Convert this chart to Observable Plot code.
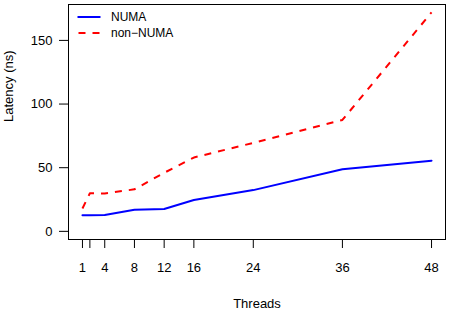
<!DOCTYPE html>
<html><head><meta charset="utf-8">
<script src="https://cdn.jsdelivr.net/npm/d3@7"></script>
<script src="https://cdn.jsdelivr.net/npm/@observablehq/plot@0.6"></script>
<style>
body{margin:0;background:#fff;}
#wrap{position:relative;width:450px;height:315px;font-family:"Liberation Sans",Arial,Helvetica,sans-serif;}
#wrap svg.plot{display:block;}
.leg{position:absolute;left:77px;height:16px;display:flex;align-items:center;font-size:12px;color:#000;white-space:nowrap;}
.leg svg{margin-right:10px;}
</style></head><body><div id="wrap"></div>
<script>
const threads = [1, 2, 4, 8, 12, 16, 24, 36, 48];
const numa = [12.6, 12.7, 12.9, 16.9, 17.6, 24.6, 32.4, 48.8, 55.5];
const nonNuma = [18.0, 29.9, 29.8, 33.0, 46.0, 58.0, 69.5, 87.5, 172.0];
const xTicks = [1, 2, 4, 8, 12, 16, 24, 36, 48];
const xTickLabels = ["1", "", "4", "8", "12", "16", "24", "36", "48"];
const yTicks = [0, 50, 100, 150];
const seriesNames = ["NUMA", "non\u2212NUMA"];
const seriesColors = ["#0000ff", "#ff0000"];
const seriesDash = ["none", "7,7"];

const rows = [];
threads.forEach((t, i) => {
  rows.push({threads: t, latency: numa[i], series: seriesNames[0]});
});
threads.forEach((t, i) => {
  rows.push({threads: t, latency: nonNuma[i], series: seriesNames[1]});
});

const chart = Plot.plot({
  width: 450,
  height: 315,
  marginLeft: 68,
  marginRight: 5,
  marginTop: 4,
  marginBottom: 76,
  style: {fontFamily: '"Liberation Sans", Arial, Helvetica, sans-serif', fontSize: "13px", color: "#000", background: "#fff"},
  x: {domain: [-0.88, 49.88], axis: null},
  y: {domain: [-6.4, 178.2], axis: null},
  marks: [
    Plot.axisX(xTicks, {anchor: "bottom", tickSize: 9, tickPadding: 14, fontSize: 13,
      tickFormat: (d) => xTickLabels[xTicks.indexOf(d)], label: null}),
    Plot.axisY(yTicks, {anchor: "left", tickSize: 9, tickPadding: 7, fontSize: 13, label: null}),
    Plot.line(rows.filter(d => d.series === seriesNames[0]), {x: "threads", y: "latency", stroke: seriesColors[0], strokeWidth: 2}),
    Plot.line(rows.filter(d => d.series === seriesNames[1]), {x: "threads", y: "latency", stroke: seriesColors[1], strokeWidth: 2, strokeDasharray: seriesDash[1], strokeLinecap: "butt"}),
    Plot.frame({stroke: "#000", strokeWidth: 1}),
    Plot.text(["Threads"], {frameAnchor: "bottom", dy: 68, fontSize: 13, fill: "#000"}),
    Plot.text(["Latency (ns)"], {frameAnchor: "left", dx: -59.5, rotate: -90, fontSize: 13, fill: "#000"})
  ]
});
chart.classList.add("plot");
const wrap = document.getElementById("wrap");
wrap.appendChild(chart);

seriesNames.forEach((name, i) => {
  const div = document.createElement("div");
  div.className = "leg";
  div.style.top = (9 + i * 15.6) + "px";
  div.innerHTML = `<svg width="24" height="4"><line x1="0.5" y1="2" x2="23.5" y2="2" stroke="${seriesColors[i]}" stroke-width="2" ${seriesDash[i] !== "none" ? `stroke-dasharray="7,7" stroke-dashoffset="-1"` : ""}/></svg><span></span>`;
  div.querySelector("span").textContent = name;
  wrap.appendChild(div);
});
</script>
</body></html>
